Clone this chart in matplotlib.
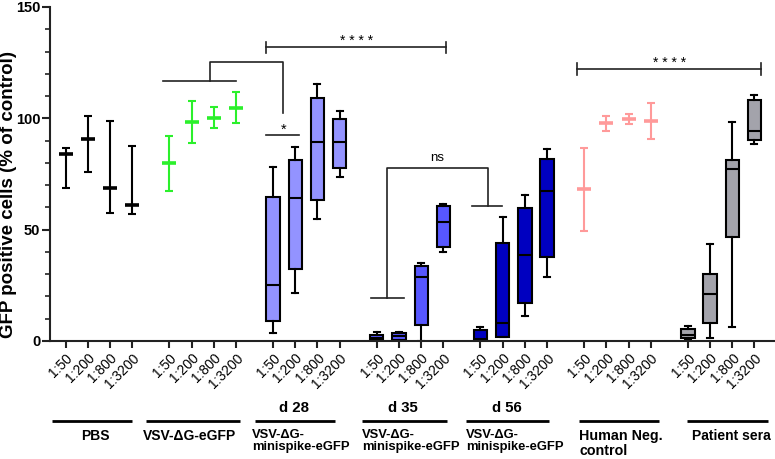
import matplotlib.pyplot as plt
import matplotlib.transforms as mtransforms
import numpy as np

plt.rcParams['font.family'] = ['Liberation Sans', 'DejaVu Sans']

dilutions = ["1:50", "1:200", "1:800", "1:3200"]
group_names = ["PBS", "VSV-\u0394G-eGFP", "VSV-\u0394G-\nminispike-eGFP",
               "VSV-\u0394G-\nminispike-eGFP", "VSV-\u0394G-\nminispike-eGFP",
               "Human Neg.\ncontrol", "Patient sera"]
group_days = ["", "", "d 28", "d 35", "d 56", "", ""]

# median with range (groups 0, 1, 5)
pbs_med = [83.8, 90.6, 68.6, 60.9]
pbs_lo = [68.7, 75.9, 57.6, 56.9]
pbs_hi = [86.8, 101.0, 98.9, 87.7]

egfp_med = [79.9, 98.4, 100.3, 104.8]
egfp_lo = [67.5, 88.8, 95.5, 97.8]
egfp_hi = [92.1, 107.9, 105.1, 111.7]

neg_med = [68.1, 97.8, 99.7, 98.8]
neg_lo = [49.5, 94.4, 97.3, 90.6]
neg_hi = [86.8, 101.0, 101.9, 106.9]

# box plots: whisker low, q1, median, q3, whisker high
d28_lo = [3.4, 21.7, 54.8, 73.8]
d28_q1 = [9.0, 32.5, 63.3, 77.8]
d28_med = [25.2, 64.2, 89.2, 89.5]
d28_q3 = [64.7, 81.4, 109.0, 99.8]
d28_hi = [78.3, 87.3, 115.6, 103.4]

d35_lo = [0.0, 0.0, 0.1, 40.1]
d35_q1 = [0.4, 0.6, 7.2, 42.4]
d35_med = [1.5, 2.2, 28.6, 53.6]
d35_q3 = [2.8, 3.6, 33.7, 60.5]
d35_hi = [3.9, 4.0, 35.2, 61.5]

d56_lo = [0.0, 1.7, 11.4, 28.6]
d56_q1 = [0.3, 1.7, 16.9, 37.9]
d56_med = [0.8, 7.9, 38.6, 67.4]
d56_q3 = [4.8, 44.2, 59.6, 81.6]
d56_hi = [6.3, 55.8, 65.6, 86.1]

pat_lo = [0.5, 1.5, 6.3, 88.3]
pat_q1 = [1.2, 8.2, 46.6, 90.3]
pat_med = [2.8, 21.1, 77.1, 94.4]
pat_q3 = [5.3, 30.1, 81.4, 108.1]
pat_hi = [6.9, 43.6, 98.2, 110.6]

group_gap = 4.67


def pos(g, i=0):
    return g * group_gap + i


fig = plt.figure(figsize=(7.75, 4.59), dpi=100)
ax = fig.add_axes([50 / 775, 1 - 341 / 459, 724 / 775, 334 / 459])

# median + range
for g, med, lo, hi, col in [(0, pbs_med, pbs_lo, pbs_hi, "black"),
                            (1, egfp_med, egfp_lo, egfp_hi, "#2BF02B"),
                            (5, neg_med, neg_lo, neg_hi, "#FF9A9A")]:
    x = [pos(g, i) for i in range(4)]
    med = np.array(med)
    yerr = [med - np.array(lo), np.array(hi) - med]
    ax.errorbar(x, med, yerr=yerr, fmt="none", ecolor=col, elinewidth=1.5,
                capsize=2.6, capthick=1.5, zorder=3)
    ax.plot(x, med, ls="none", marker="_", ms=10.5, mew=2.6, color=col, zorder=4)

# box plots
for g, lo, q1, med, q3, hi, col in [(2, d28_lo, d28_q1, d28_med, d28_q3, d28_hi, "#9393FF"),
                                    (3, d35_lo, d35_q1, d35_med, d35_q3, d35_hi, "#5757FF"),
                                    (4, d56_lo, d56_q1, d56_med, d56_q3, d56_hi, "#0000C0"),
                                    (6, pat_lo, pat_q1, pat_med, pat_q3, pat_hi, "#A3A3AB")]:
    stats = [dict(whislo=lo[i], q1=q1[i], med=med[i], q3=q3[i], whishi=hi[i], fliers=[])
             for i in range(4)]
    ax.bxp(stats, positions=[pos(g, i) for i in range(4)], widths=0.6,
           capwidths=0.27, patch_artist=True, showfliers=False,
           boxprops=dict(facecolor=col, edgecolor="black", linewidth=1.5),
           medianprops=dict(color="black", linewidth=1.5),
           whiskerprops=dict(color="black", linewidth=1.5),
           capprops=dict(color="black", linewidth=1.5), manage_ticks=False)

# axes styling
ax.set_xlim(-0.707, 31.9)
ax.set_ylim(0, 150)
ax.set_yticks([0, 50, 100, 150])
ax.set_yticks(np.arange(0, 151, 10), minor=True)
for s in ["top", "right"]:
    ax.spines[s].set_visible(False)
for s in ["left", "bottom"]:
    ax.spines[s].set_linewidth(1.5)
    ax.spines[s].set_color("#222222")
ax.tick_params(axis="y", which="major", length=6, width=1.5, labelsize=10.5, pad=1,
               color="#222222")
ax.tick_params(axis="y", which="minor", length=3.5, width=1.2, color="#222222")
ax.tick_params(axis="x", length=5, width=1.5, color="#222222", pad=2)
for lab in ax.get_yticklabels():
    lab.set_fontweight("bold")
ax.set_ylabel("GFP positive cells (% of control)", fontsize=13.5, fontweight="bold")
ax.yaxis.set_label_coords(-0.045, 0.44)

xt = [pos(g, i) for g in range(7) for i in range(4)]
ax.set_xticks(xt)
ax.set_xticklabels(dilutions * 7, rotation=45, ha="right", rotation_mode="anchor",
                   fontsize=10)

# group annotations below the axis
trans = mtransforms.blended_transform_factory(ax.transData, fig.transFigure)
line_y = 1 - 420.7 / 459
day_y = 1 - 412 / 459
name_y = 1 - 429 / 459
line_x0 = [-0.62, 3.6, 8.53, 13.33, 18.03, 23.13, 27.97]
line_x1 = [2.98, 7.85, 12.13, 17.16, 21.78, 26.74, 31.63]
day_x = [0, 0, 10.27, 15.2, 19.86, 0, 0]
name_x = [1.35, 5.57, 8.38, 13.33, 18.03, 23.13, 29.96]
name_ha = ["center", "center", "left", "left", "left", "left", "center"]
name_fs = [10, 10, 9.4, 9.4, 9.4, 10.3, 10]
for g in range(7):
    ax.plot([line_x0[g], line_x1[g]], [line_y, line_y], color="black", lw=2,
            transform=trans, clip_on=False, solid_capstyle="butt")
    if group_days[g]:
        ax.text(day_x[g], day_y, group_days[g], transform=trans, ha="center",
                va="baseline", fontsize=10.8, fontweight="bold")
    ax.text(name_x[g], name_y, group_names[g], transform=trans, ha=name_ha[g], va="top",
            fontsize=name_fs[g], fontweight="bold", multialignment="left",
            linespacing=1.05)

# significance brackets
bk = dict(color="#222222", lw=1.2, clip_on=False)
ax.plot([pos(1) - 0.27, pos(1, 3)], [116.9, 116.9], **bk)
ax.plot([6.5, 6.5, 9.8, 9.8], [116.9, 125.3, 125.3, 102.5], **bk)
ax.plot([9.0, 10.5], [92.4, 92.4], **bk)
ax.text(9.8, 95.0, "*", ha="center", va="center", fontsize=10.5)

ax.plot([9.0, 17.14], [131.9, 131.9], **bk)
ax.plot([9.0, 9.0], [129.4, 134.4], **bk)
ax.plot([17.14, 17.14], [129.4, 134.4], **bk)
ax.text(13.08, 134.6, "* * * *", ha="center", va="center", fontsize=10)

ax.plot([13.74, 15.25], [19.2, 19.2], **bk)
ax.plot([14.47, 14.47, 19.0, 19.0], [19.2, 77.6, 77.6, 60.5], **bk)
ax.plot([18.32, 19.64], [60.5, 60.5], **bk)
ax.text(16.74, 82.4, "ns", ha="center", va="center", fontsize=9.5)

ax.plot([23.05, 31.32], [122.2, 122.2], **bk)
ax.plot([23.05, 23.05], [119.5, 125.0], **bk)
ax.plot([31.32, 31.32], [119.5, 125.0], **bk)
ax.text(27.18, 124.9, "* * * *", ha="center", va="center", fontsize=10)

fig.savefig("out.png", dpi=100)
